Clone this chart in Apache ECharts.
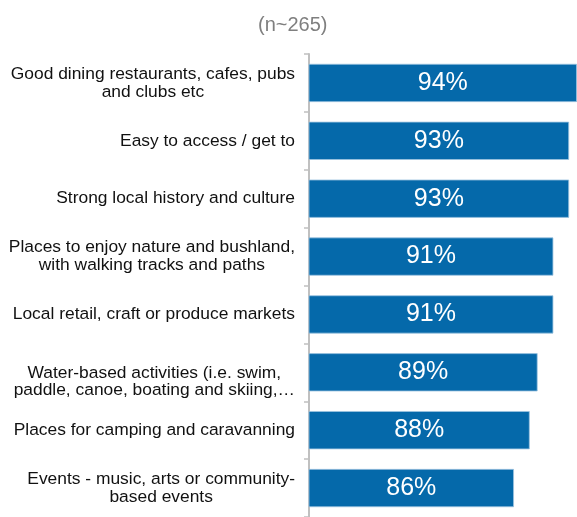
<!DOCTYPE html>
<html>
<head>
<meta charset="utf-8">
<script src="https://cdn.jsdelivr.net/npm/echarts@6/dist/echarts.min.js"></script>
<style>
  html, body { margin: 0; padding: 0; background: #ffffff; }
  #chart { width: 577px; height: 517px; }
</style>
</head>
<body>
<div id="chart"></div>
<script>
// Attributes rated, top to bottom (line breaks as shown on the axis)
const categories = [
  'Good dining restaurants, cafes, pubs\nand clubs etc',
  'Easy to access / get to',
  'Strong local history and culture',
  'Places to enjoy nature and bushland,\nwith walking tracks and paths',
  'Local retail, craft or produce markets',
  'Water-based activities (i.e. swim,\npaddle, canoe, boating and skiing,…',
  'Places for camping and caravanning',
  'Events - music, arts or community-\nbased events'
];

// Share of respondents (%)
const values = [94, 93, 93, 91, 91, 89, 88, 86];

const sampleNote = '(n~265)';

const chart = echarts.init(document.getElementById('chart'), null, { renderer: 'canvas' });

const labelFont = 'Liberation Sans, Arial, sans-serif';

chart.setOption({
  animation: false,
  backgroundColor: '#ffffff',
  title: {
    text: sampleNote,
    left: 253,
    top: 10,
    textStyle: {
      fontFamily: labelFont,
      fontSize: 20,
      fontWeight: 'normal',
      color: '#7f7f7f'
    }
  },
  grid: {
    left: 309,
    width: 269,
    top: 54,
    bottom: -3,
    containLabel: false
  },
  xAxis: {
    type: 'value',
    min: 60,
    max: 94,
    show: false
  },
  yAxis: {
    type: 'category',
    data: categories,
    inverse: true,
    axisLine: { show: true, lineStyle: { color: '#c0c0c0', width: 2 } },
    axisTick: { show: true, length: 5, lineStyle: { color: '#c0c0c0', width: 1.5 } },
    axisLabel: {
      margin: 14,
      align: 'right',
      formatter: function (v) {
        const lines = v.split('\n');
        // a label cut off with "…" keeps the slot of its hidden last line,
        // so its visible lines sit lower than the bar centre
        const clipped = lines[lines.length - 1].endsWith('…');
        return lines.map(function (s, i) {
          return (clipped && i === 0 ? '{t|' : '{c|') + s + '}';
        }).join('\n');
      },
      rich: {
        c: {
          align: 'center',
          fontFamily: labelFont,
          fontSize: 17.4,
          lineHeight: 18,
          color: '#111111'
        },
        t: {
          align: 'center',
          verticalAlign: 'bottom',
          fontFamily: labelFont,
          fontSize: 17.4,
          lineHeight: 36,
          color: '#111111'
        }
      }
    },
    splitLine: { show: false }
  },
  series: [{
    type: 'bar',
    data: values,
    barCategoryGap: '34%',
    itemStyle: {
      color: '#0569aa',
      borderColor: '#9cc3e0',
      borderWidth: 0.8
    },
    label: {
      show: true,
      position: 'inside',
      formatter: '{c}%',
      fontFamily: labelFont,
      fontSize: 25,
      color: '#ffffff'
    }
  }]
});
</script>
</body>
</html>
